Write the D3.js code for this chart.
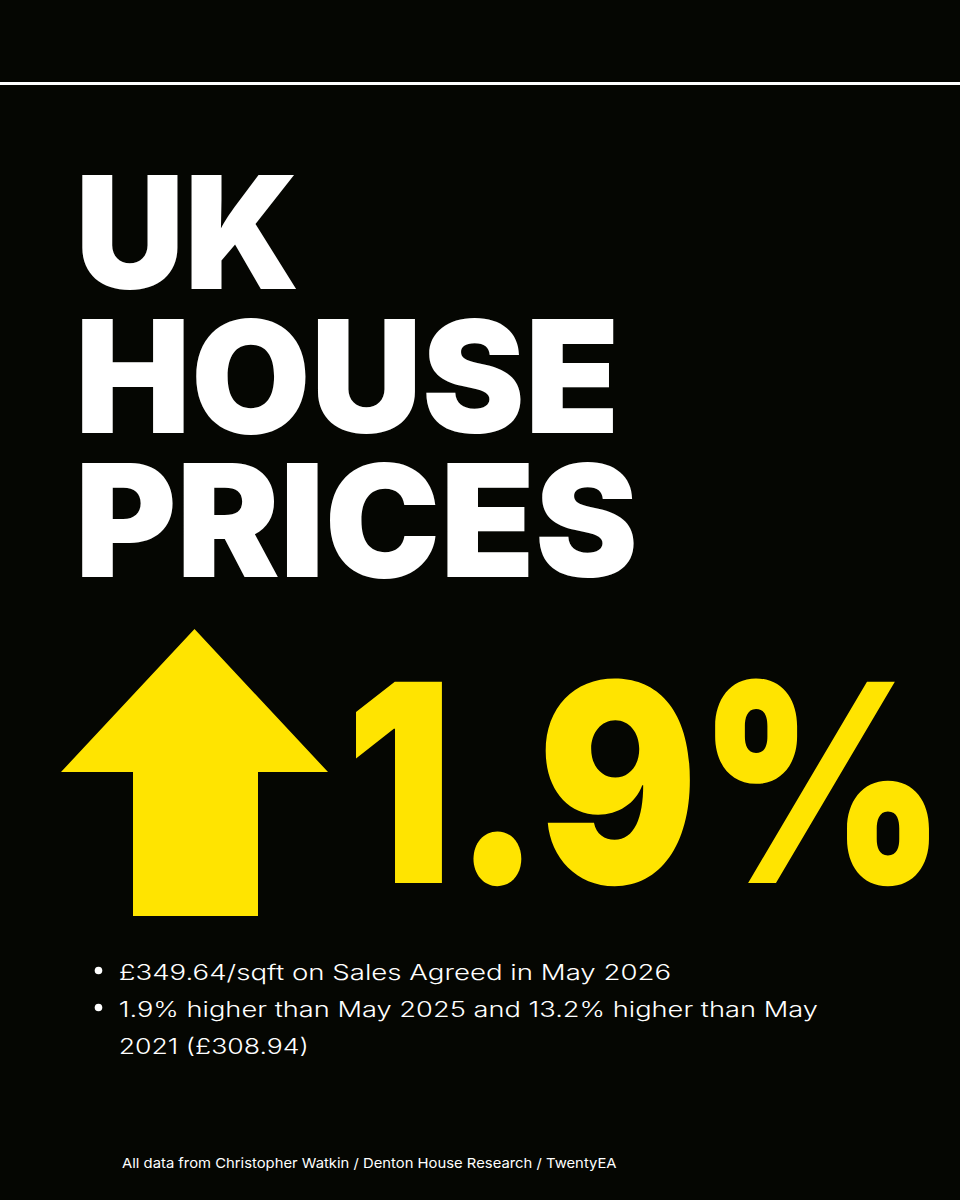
<!DOCTYPE html>
<html>
<head>
<meta charset="utf-8">
<script src="https://cdn.jsdelivr.net/npm/d3@7"></script>
<style>
  html, body { margin: 0; padding: 0; background: #050602; }
  svg { display: block; }
</style>
</head>
<body>
<div id="chart"></div>
<script>
// ---- data ----
const titleLines = ["UK", "HOUSE", "PRICES"];
const changeYoY = 1.9;            // % change vs May 2025
const change5y = 13.2;            // % change vs May 2021
const priceNow = 349.64;          // £/sqft, May 2026
const priceThen = 308.94;         // £/sqft, May 2021
const monthNow = "May 2026";
const monthYoY = "May 2025";
const monthThen = "May";
const yearThen = "2021";
const sourceText = "All data from Christopher Watkin / Denton House Research / TwentyEA";

const fmtPct = d3.format(".1f");
const fmtGBP = d3.format(".2f");
const headline = fmtPct(changeYoY) + "%";
const bulletLines = [
  { bullet: true,  text: "£" + fmtGBP(priceNow) + "/sqft on Sales Agreed in " + monthNow },
  { bullet: true,  text: fmtPct(changeYoY) + "% higher than " + monthYoY + " and " + fmtPct(change5y) + "% higher than " + monthThen },
  { bullet: false, text: yearThen + " (£" + fmtGBP(priceThen) + ")" }
];

// ---- layout ----
const W = 960, H = 1200;
const BG = "#050602", YELLOW = "#FFE400", WHITE = "#FFFFFF";
const FAMILY = "Inter, 'Noto Sans', sans-serif";

const svg = d3.select("#chart").append("svg")
  .attr("width", W).attr("height", H).attr("viewBox", `0 0 ${W} ${H}`);

svg.append("rect").attr("width", W).attr("height", H).attr("fill", BG);

// top rule
svg.append("line")
  .attr("x1", 0).attr("x2", W).attr("y1", 83.5).attr("y2", 83.5)
  .attr("stroke", WHITE).attr("stroke-width", 3);

// canvas-based ink fitting
const ctx = document.createElement("canvas").getContext("2d");
function fitText(g, str, o) {
  const base = 100;
  ctx.font = `${o.weight} ${base}px Inter`;
  const capH = ctx.measureText(o.refChar || "H").actualBoundingBoxAscent;
  const fs = base * o.cap / capH;
  ctx.font = `${o.weight} ${fs}px Inter`;
  const m = ctx.measureText(str);
  const left = m.actualBoundingBoxLeft, right = m.actualBoundingBoxRight;
  const sx = o.width ? o.width / (left + right) : 1;
  g.append("text")
    .attr("transform", `translate(${o.x + left * sx},${o.y}) scale(${sx},1)`)
    .attr("font-family", FAMILY)
    .attr("font-weight", o.weight)
    .attr("font-size", fs)
    .attr("fill", o.fill)
    .text(str);
}

// title
const titleY = d3.scalePoint().domain(titleLines).range([289, 577]);
const titleRight = { "UK": 297, "HOUSE": 614, "PRICES": 634 };
const gTitle = svg.append("g");
titleLines.forEach(t => fitText(gTitle, t, {
  x: 82, y: titleY(t), cap: 114, width: titleRight[t] - 82, weight: 900, fill: WHITE
}));

// arrow (built in unit space, mapped through scales)
const ax = d3.scaleLinear().domain([0, 1]).range([61, 328]);
const ay = d3.scaleLinear().domain([0, 1]).range([629, 916]);
const arrowUnit = [
  [0.5, 0], [1, 0.4983], [0.7378, 0.4983], [0.7378, 1],
  [0.2697, 1], [0.2697, 0.4983], [0, 0.4983]
];
svg.append("path")
  .attr("d", d3.line().x(d => ax(d[0])).y(d => ay(d[1]))(arrowUnit) + "Z")
  .attr("fill", YELLOW);

// headline number
fitText(svg.append("g"), headline, {
  x: 353, y: 883, cap: 202, width: 932 - 353, weight: 900, fill: YELLOW, refChar: "1"
});

// bullets
const lineY = d3.scaleLinear().domain([0, 2]).range([980, 1054]);
const bulletRight = [670, 818, 307];
const gB = svg.append("g");
bulletLines.forEach((l, i) => {
  if (l.bullet) {
    gB.append("circle").attr("cx", 98.5).attr("cy", lineY(i) - 9.5).attr("r", 3.8).attr("fill", WHITE);
  }
  fitText(gB, l.text, {
    x: 120, y: lineY(i), cap: 15.5, width: bulletRight[i] - 120, weight: 300, fill: WHITE
  });
});

// source
fitText(svg.append("g"), sourceText, {
  x: 122, y: 1168, cap: 10, width: 617 - 122, weight: 400, fill: WHITE
});
</script>
</body>
</html>
